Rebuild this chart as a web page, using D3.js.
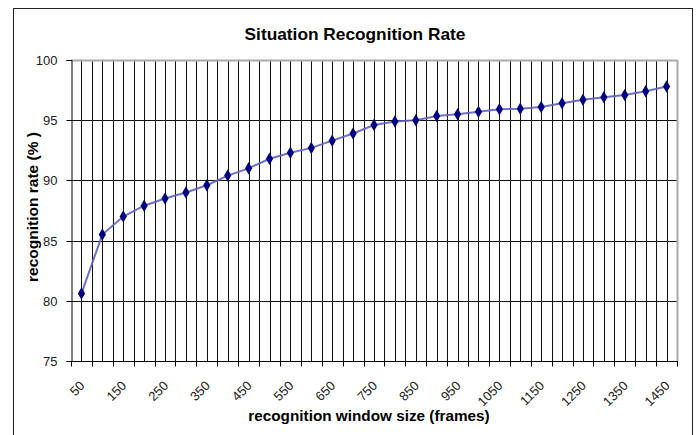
<!DOCTYPE html>
<html><head><meta charset="utf-8">
<script src="https://cdn.jsdelivr.net/npm/d3@7/dist/d3.min.js"></script>
<style>body{margin:0;background:#fff;} svg{display:block;font-family:"Liberation Sans",Arial,sans-serif;}</style>
</head><body><svg id="c" width="697" height="435"></svg>
<script>
const categories = [50,100,150,200,250,300,350,400,450,500,550,600,650,700,750,800,850,900,950,1000,1050,1100,1150,1200,1250,1300,1350,1400,1450];
const rates = [80.6,85.5,87.0,87.9,88.5,89.0,89.6,90.4,91.0,91.8,92.3,92.7,93.3,93.9,94.6,94.9,95.0,95.35,95.5,95.7,95.9,95.95,96.1,96.4,96.7,96.9,97.1,97.4,97.8];
const yTicks = [75,80,85,90,95,100];
const tickLabels = categories.filter((d,i)=>i%2===0);
const title = "Situation Recognition Rate";
const xTitle = "recognition window size (frames)";
const yTitle = "recognition rate (% )";

const svg = d3.select("#c");
const L=71, R=677, T=60, B=361;
const x = d3.scaleBand().domain(categories).range([L,R]).paddingInner(0).paddingOuter(0);
const y = d3.scaleLinear().domain([75,100]).range([B,T]);
const crisp = v => Math.round(v)+0.5;

// outer chart border
svg.append("rect").attr("x",13.5).attr("y",8.5).attr("width",679).attr("height",440)
  .attr("fill","none").attr("stroke","#222").attr("stroke-width",1);

// vertical gridlines (band boundaries and centers)
const g = svg.append("g");
const vlines = [];
categories.forEach(c=>{ vlines.push(x(c)); vlines.push(x(c)+x.bandwidth()/2); });
g.selectAll("line.v").data(vlines.filter(v=>v>L+1)).join("line")
  .attr("x1",d=>crisp(d)).attr("x2",d=>crisp(d)).attr("y1",T).attr("y2",B)
  .attr("stroke","#111").attr("stroke-width",1);
// horizontal gridlines
g.selectAll("line.h").data(yTicks.filter(t=>t>75 && t<100)).join("line")
  .attr("x1",L).attr("x2",R).attr("y1",d=>crisp(y(d))).attr("y2",d=>crisp(y(d)))
  .attr("stroke","#111").attr("stroke-width",1);
// top & right border grey
svg.append("line").attr("x1",L).attr("x2",R+0.5).attr("y1",crisp(T)).attr("y2",crisp(T)).attr("stroke","#aaa").attr("stroke-width",2);
svg.append("line").attr("x1",crisp(R)).attr("x2",crisp(R)).attr("y1",T).attr("y2",B).attr("stroke","#aaa").attr("stroke-width",2);

// y axis
const yAxis = d3.axisLeft(y).tickValues(yTicks).tickSize(5).tickPadding(9);
const ya = svg.append("g").attr("transform",`translate(${crisp(L)},0)`).call(yAxis);
ya.select(".domain").attr("stroke","#000");
ya.selectAll(".tick line").attr("stroke","#000");
ya.selectAll("text").attr("font-size",13).attr("fill","#222").attr("font-family","Liberation Sans, Arial, sans-serif");
ya.selectAll(".tick").attr("transform",d=>`translate(0,${crisp(y(d))})`);

// x axis
const xa = svg.append("g").attr("transform",`translate(0,${crisp(B)})`);
xa.append("line").attr("x1",L).attr("x2",R+1).attr("y1",0).attr("y2",0).attr("stroke","#000");
const tickPos = categories.map(c=>x(c)).concat([R]);
xa.selectAll("line.t").data(tickPos).join("line")
  .attr("x1",d=>crisp(d)).attr("x2",d=>crisp(d)).attr("y1",0).attr("y2",5).attr("stroke","#000");
xa.selectAll("text").data(tickLabels).join("text")
  .attr("transform",d=>`translate(${x(d)+x.bandwidth()/2+4},${25}) rotate(-45)`)
  .attr("text-anchor","end")
  .attr("font-size",13).attr("fill","#222").text(d=>d);

// line
const line = d3.line().x((d,i)=>x(categories[i])+x.bandwidth()/2).y(d=>y(d));
svg.append("path").datum(rates).attr("d",line).attr("fill","none")
  .attr("stroke","#6060c0").attr("stroke-width",2).attr("stroke-opacity",0.9);
svg.selectAll("path.m").data(rates).join("path")
  .attr("d",d3.symbol().type(d3.symbolDiamond).size(45))
  .attr("transform",(d,i)=>`translate(${x(categories[i])+x.bandwidth()/2},${y(d)})`)
  .attr("fill","#000080");

// titles
svg.append("text").attr("x",355).attr("y",40).attr("text-anchor","middle")
  .attr("font-size",17.3).attr("font-weight","bold").attr("fill","#000").text(title);
svg.append("text").attr("x",369).attr("y",421).attr("text-anchor","middle")
  .attr("font-size",15.3).attr("font-weight","bold").attr("fill","#000").text(xTitle);
svg.append("text").attr("transform","translate(38,207) rotate(-90)").attr("text-anchor","middle")
  .attr("font-size",15.5).attr("font-weight","bold").attr("fill","#000").text(yTitle);
</script></body></html>
